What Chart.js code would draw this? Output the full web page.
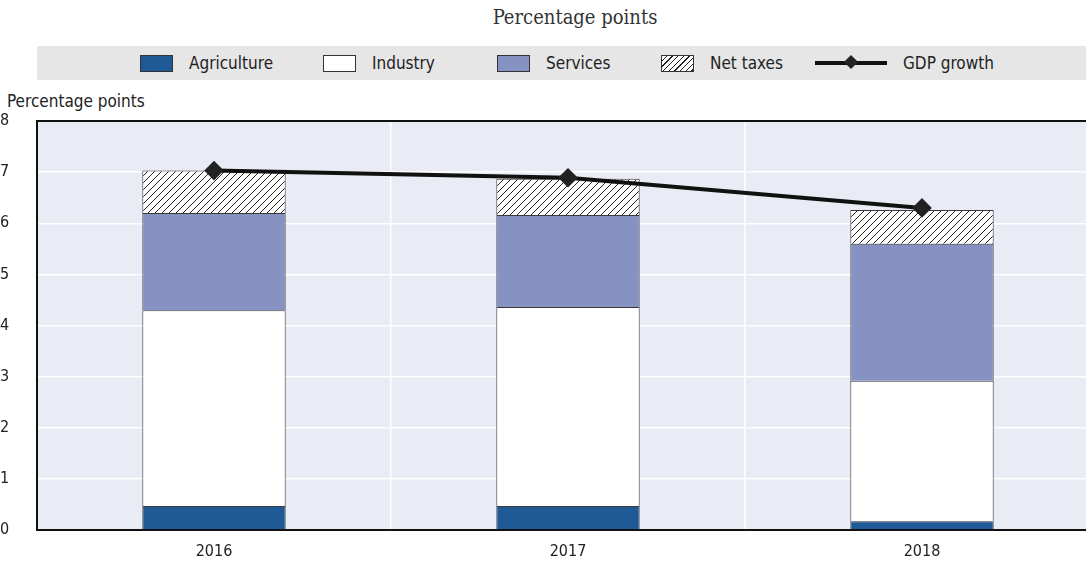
<!DOCTYPE html>
<html>
<head>
<meta charset="utf-8">
<script src="https://cdn.jsdelivr.net/npm/chart.js@4.4.1/dist/chart.umd.min.js"></script>
<style>
  body { margin: 0; width: 1086px; height: 564px; overflow: hidden; background: #fff; position: relative;
         font-family: "DejaVu Sans Condensed", "Liberation Sans", sans-serif; color: #222; }
  #sub { position: absolute; top: 5px; left: 460px; width: 230px; text-align: center; font: 20px "DejaVu Serif Condensed", "Liberation Serif", serif; color: #333; }
  #legend { position: absolute; left: 37px; top: 46px; width: 1049px; height: 34px; background: #e6e6e6; }
  .item { position: absolute; top: 0; height: 34px; display: flex; align-items: center; font-size: 17px; white-space: nowrap; }
  .sw { width: 33px; height: 17px; border: 1px solid #333; margin-right: 16px; box-sizing: border-box; }
  .ln { width: 72px; height: 4px; background: #111; margin-right: 16px; position: relative; }
  .ln::after { content: ""; position: absolute; left: 31px; top: -4px; width: 10px; height: 10px; background: #222; transform: rotate(45deg); }
  #ytitle { position: absolute; left: 7px; top: 91px; font-size: 17px; }
  #wrap { position: absolute; left: 0; top: 88px; }
</style>
</head>
<body>
<div id="sub">Percentage points</div>
<div id="legend"></div>
<div id="ytitle">Percentage points</div>
<div id="wrap"><canvas id="chart" width="1110" height="476"></canvas></div>
<script>
// data
const years = ['2016', '2017', '2018'];
const agriculture = [0.47, 0.47, 0.17];
const industry = [3.83, 3.89, 2.75];
const services = [1.90, 1.80, 2.68];
const netTaxes = [0.83, 0.71, 0.66];
const gdpGrowth = [7.03, 6.89, 6.30];
const yTicks = [0, 1, 2, 3, 4, 5, 6, 7, 8];

const FONT = '"DejaVu Sans Condensed", "Liberation Sans", sans-serif';

// diagonal hatch for net taxes
function hatch() {
  const c = document.createElement('canvas');
  c.width = 7; c.height = 7;
  const g = c.getContext('2d');
  g.fillStyle = '#fff';
  g.fillRect(0, 0, 7, 7);
  g.strokeStyle = '#222';
  g.lineWidth = 1;
  g.beginPath();
  g.moveTo(-1, 8); g.lineTo(8, -1);
  g.moveTo(-2, 2); g.lineTo(2, -2);
  g.moveTo(5, 9); g.lineTo(9, 5);
  g.stroke();
  return g.createPattern(c, 'repeat');
}

// legend (html)
const legendItems = [
  { label: 'Agriculture', left: 103, css: 'background:#1f5a96' },
  { label: 'Industry', left: 286, css: 'background:#fff' },
  { label: 'Services', left: 460, css: 'background:#8592c2' },
  { label: 'Net taxes', left: 624, css: 'background:repeating-linear-gradient(135deg,#fff 0 3px,#222 3px 4px)' },
  { label: 'GDP growth', left: 778, line: true }
];
const leg = document.getElementById('legend');
legendItems.forEach(it => {
  const d = document.createElement('div');
  d.className = 'item';
  d.style.left = it.left + 'px';
  d.innerHTML = (it.line ? '<span class="ln"></span>' : '<span class="sw" style="' + it.css + '"></span>') + '<span>' + it.label + '</span>';
  leg.appendChild(d);
});

const plotBg = {
  id: 'plotBg',
  beforeDraw(chart) {
    const { ctx, chartArea: a } = chart;
    ctx.save();
    ctx.fillStyle = '#e9ebf5';
    ctx.fillRect(a.left, a.top, a.right - a.left, a.bottom - a.top);
    ctx.restore();
  },
  afterDatasetsDraw(chart) {
    const { ctx, chartArea: a } = chart;
    ctx.save();
    ctx.strokeStyle = '#111';
    ctx.lineWidth = 2;
    ctx.beginPath();
    ctx.moveTo(a.left, a.top);
    ctx.lineTo(a.right, a.top);
    ctx.stroke();
    ctx.restore();
  }
};

const barStyle = { stack: 'bars', borderColor: '#3a3a3a', borderWidth: 1, barPercentage: 0.405, categoryPercentage: 1, order: 1 };

new Chart(document.getElementById('chart'), {
  type: 'bar',
  data: {
    labels: years,
    datasets: [
      { type: 'line', label: 'GDP growth', data: gdpGrowth, stack: 'gdp', order: 0,
        borderColor: '#111', borderWidth: 4, pointStyle: 'rectRot', pointRadius: 7,
        pointBackgroundColor: '#222', pointBorderColor: '#222', tension: 0 },
      { label: 'Agriculture', data: agriculture, backgroundColor: '#1f5a96', ...barStyle },
      { label: 'Industry', data: industry, backgroundColor: '#ffffff', ...barStyle },
      { label: 'Services', data: services, backgroundColor: '#8592c2', ...barStyle },
      { label: 'Net taxes', data: netTaxes, backgroundColor: hatch(), ...barStyle }
    ]
  },
  options: {
    responsive: false,
    animation: false,
    devicePixelRatio: 1,
    layout: { padding: { top: 33, right: 3, left: 0, bottom: 0 } },
    plugins: { legend: { display: false }, tooltip: { enabled: false } },
    scales: {
      x: {
        stacked: true,
        grid: { color: '#ffffff', lineWidth: 1.5, drawTicks: false, offset: true },
        border: { display: true, color: '#111', width: 2 },
        ticks: { color: '#222', font: { family: FONT, size: 16 }, padding: 12 },
        afterFit(s) { s.height = 34; }
      },
      y: {
        stacked: true,
        min: 0, max: 8,
        afterBuildTicks(s) { s.ticks = yTicks.map(v => ({ value: v })); },
        grid: { color: '#ffffff', lineWidth: 1.5, drawTicks: false },
        border: { display: true, color: '#111', width: 2 },
        ticks: { color: '#222', crossAlign: 'far', padding: 8, font: { family: FONT, size: 16 } },
        afterFit(s) { s.width = 37; }
      }
    }
  },
  plugins: [plotBg]
});
</script>
</body>
</html>
